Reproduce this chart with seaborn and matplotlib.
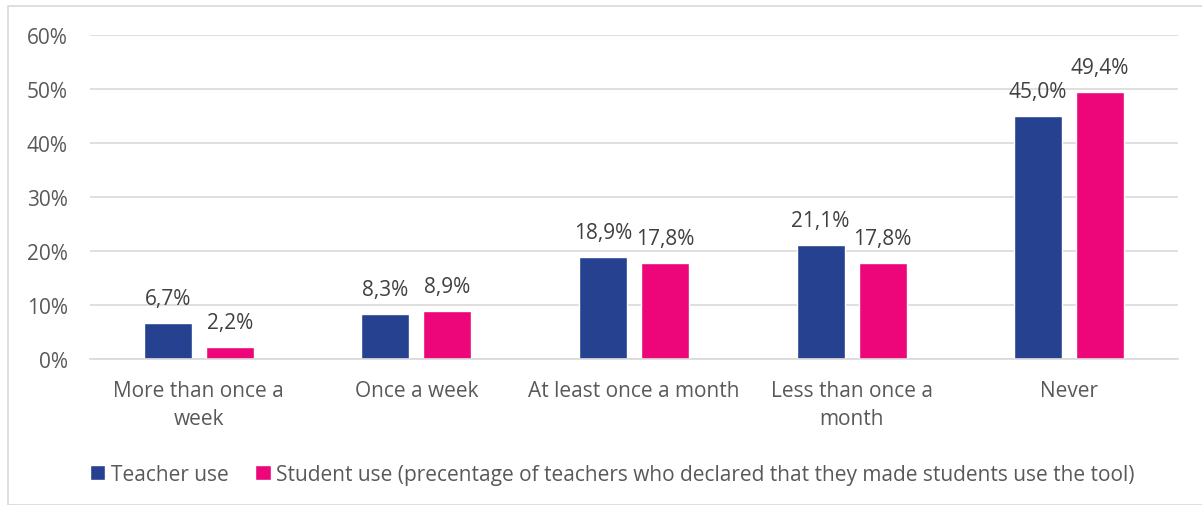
import matplotlib
matplotlib.use('Agg')
import matplotlib.pyplot as plt
import seaborn as sns
import pandas as pd
from matplotlib.ticker import PercentFormatter
from matplotlib.patches import Rectangle

categories = ['More than once a\nweek', 'Once a week', 'At least once a month',
              'Less than once a\nmonth', 'Never']
teacher_use = [6.7, 8.3, 18.9, 21.1, 45.0]
student_use = [2.2, 8.9, 17.8, 17.8, 49.4]
series_names = ['Teacher use',
                'Student use (precentage of teachers who declared that they made students use the tool)']
colors = ['#26418F', '#EC0679']

df = pd.DataFrame({
    'category': categories * 2,
    'value': teacher_use + student_use,
    'series': [series_names[0]] * 5 + [series_names[1]] * 5,
})

sns.set_style('white')
plt.rcParams['font.family'] = ['Open Sans', 'DejaVu Sans']
text_col = '#595959'

fig = plt.figure(figsize=(12.02, 5.06), dpi=100)
ax = fig.add_axes([0.0749, 0.2885, 0.9051, 0.6404])

sns.barplot(data=df, x='category', y='value', hue='series', palette=colors,
            width=0.57, gap=0.226, ax=ax, saturation=1)

for cont in ax.containers:
    ax.bar_label(cont, labels=[f'{v:.1f}'.replace('.', ',') + '%' for v in cont.datavalues],
                 padding=10, fontsize=15, color='#404040')

ax.set_ylim(0, 60)
ax.set_yticks(range(0, 61, 10))
ax.yaxis.set_major_formatter(PercentFormatter(decimals=0))
ax.yaxis.grid(True, color='#D9D9D9', linewidth=1.2)
ax.set_axisbelow(True)
for s in ['top', 'right', 'left']:
    ax.spines[s].set_visible(False)
ax.spines['bottom'].set_color('#D9D9D9')
ax.spines['bottom'].set_linewidth(1.2)
ax.tick_params(axis='both', length=0, labelsize=15, colors=text_col)
ax.tick_params(axis='y', pad=16)
ax.tick_params(axis='x', pad=15)
for lbl in ax.get_xticklabels():
    lbl.set_linespacing(1.45)
ax.set_xlabel('')
ax.set_ylabel('')

ax.legend(loc='center', bbox_to_anchor=(0.48, -0.355), ncol=2, frameon=False,
          fontsize=15, handlelength=0.75, handleheight=0.75, handletextpad=0.25,
          columnspacing=1.3, labelcolor=text_col)

fig.patches.append(Rectangle((8 / 1202, 0), 1.0, 1 - 7 / 506, transform=fig.transFigure,
                             fill=False, edgecolor='#D9D9D9', linewidth=1.2))

fig.savefig('out.png', dpi=100)
